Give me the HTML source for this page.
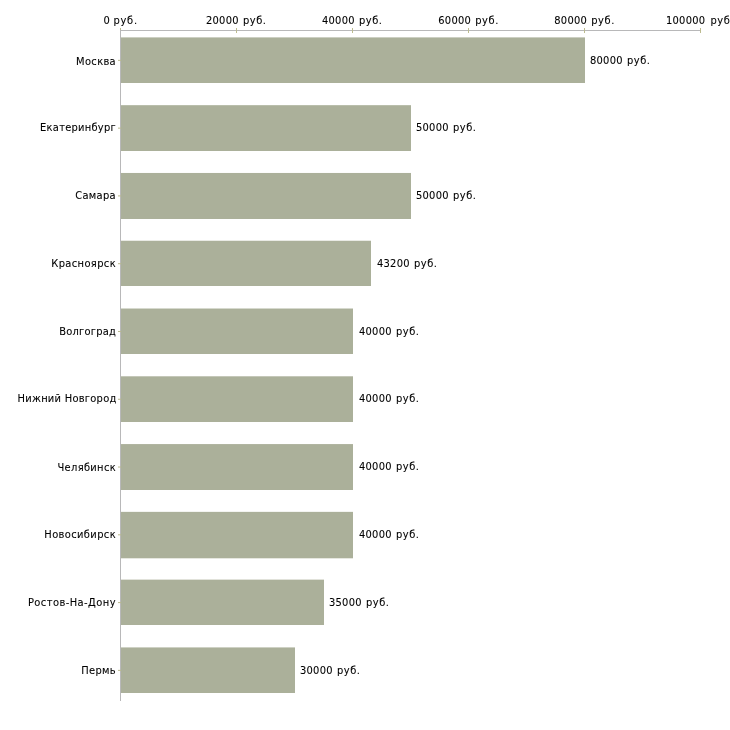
<!DOCTYPE html>
<html><head><meta charset="utf-8"><title>chart</title>
<style>
html,body{margin:0;padding:0;background:#fff;}
body{width:730px;height:730px;position:relative;overflow:hidden;font-family:"DejaVu Sans Condensed","DejaVu Sans","Liberation Sans",sans-serif;font-size:11px;font-stretch:condensed;color:#000;-webkit-text-stroke:0.08px #000;}
.c{position:absolute;white-space:nowrap;line-height:14px;height:14px;}
.v{position:absolute;white-space:nowrap;line-height:14px;height:14px;word-spacing:1.1px;}
.x{position:absolute;top:14px;white-space:nowrap;line-height:14px;word-spacing:1.1px;}
.d{letter-spacing:0.25px;}
.r{letter-spacing:0.55px;}
.t{position:absolute;background:#bcbb8f;}
.a{position:absolute;background:#b8b8b9;}
</style></head><body>

<div class="a" style="left:120px;top:30px;width:581px;height:1px"></div>
<div class="a" style="left:120px;top:30px;width:1px;height:671px"></div>
<svg width="730" height="730" viewBox="0 0 730 730" style="position:absolute;left:0;top:0"><rect x="121" y="37.40" width="464" height="45.60" fill="#abb09a"/><rect x="118" y="59.85" width="3" height="1" fill="#bcbb8f"/><rect x="121" y="105.18" width="290" height="45.82" fill="#abb09a"/><rect x="118" y="127.63" width="3" height="1" fill="#bcbb8f"/><rect x="121" y="172.96" width="290" height="46.04" fill="#abb09a"/><rect x="118" y="195.41" width="3" height="1" fill="#bcbb8f"/><rect x="121" y="240.74" width="250" height="45.26" fill="#abb09a"/><rect x="118" y="263.19" width="3" height="1" fill="#bcbb8f"/><rect x="121" y="308.52" width="232" height="45.48" fill="#abb09a"/><rect x="118" y="330.97" width="3" height="1" fill="#bcbb8f"/><rect x="121" y="376.30" width="232" height="45.70" fill="#abb09a"/><rect x="118" y="398.75" width="3" height="1" fill="#bcbb8f"/><rect x="121" y="444.08" width="232" height="45.92" fill="#abb09a"/><rect x="118" y="466.53" width="3" height="1" fill="#bcbb8f"/><rect x="121" y="511.86" width="232" height="46.44" fill="#abb09a"/><rect x="118" y="534.31" width="3" height="1" fill="#bcbb8f"/><rect x="121" y="579.64" width="203" height="45.36" fill="#abb09a"/><rect x="118" y="602.09" width="3" height="1" fill="#bcbb8f"/><rect x="121" y="647.42" width="174" height="45.58" fill="#abb09a"/><rect x="118" y="669.87" width="3" height="1" fill="#bcbb8f"/></svg>
<div class="t" style="left:120px;top:28px;width:1px;height:2px"></div>
<div class="x" style="word-spacing:0.3px;left:103.5px"><span class="d">0</span> <span class="r" style="letter-spacing:0.72px">руб.</span></div>
<div class="t" style="left:236px;top:28px;width:1px;height:5px"></div>
<div class="x" style="left:206px"><span class="d">20000</span> <span class="r">руб.</span></div>
<div class="t" style="left:352px;top:28px;width:1px;height:5px"></div>
<div class="x" style="left:322px"><span class="d">40000</span> <span class="r">руб.</span></div>
<div class="t" style="left:468px;top:28px;width:1px;height:5px"></div>
<div class="x" style="left:438.3px"><span class="d">60000</span> <span class="r">руб.</span></div>
<div class="t" style="left:584px;top:28px;width:1px;height:5px"></div>
<div class="x" style="left:554.3px"><span class="d">80000</span> <span class="r">руб.</span></div>
<div class="t" style="left:700px;top:28px;width:1px;height:5px"></div>
<div class="x" style="word-spacing:2.1px;left:666px"><span class="d">100000</span> <span class="r">руб.</span></div>
<div class="c" style="top:55px;right:614px;letter-spacing:0.33px">Москва</div>
<div class="v" style="top:54px;left:590px"><span class="d">80000</span> <span class="r">руб.</span></div>
<div class="c" style="top:121px;right:614px;letter-spacing:0.26px">Екатеринбург</div>
<div class="v" style="top:121px;left:416px"><span class="d">50000</span> <span class="r">руб.</span></div>
<div class="c" style="top:189px;right:614px;letter-spacing:0.33px">Самара</div>
<div class="v" style="top:189px;left:416px"><span class="d">50000</span> <span class="r">руб.</span></div>
<div class="c" style="top:257px;right:614px;letter-spacing:0.375px">Красноярск</div>
<div class="v" style="top:257px;left:377px"><span class="d">43200</span> <span class="r">руб.</span></div>
<div class="c" style="top:325px;right:614px;letter-spacing:0.22px">Волгоград</div>
<div class="v" style="top:325px;left:359px"><span class="d">40000</span> <span class="r">руб.</span></div>
<div class="c" style="top:392px;right:613.4px;letter-spacing:0.27px">Нижний Новгород</div>
<div class="v" style="top:392px;left:359px"><span class="d">40000</span> <span class="r">руб.</span></div>
<div class="c" style="top:461px;right:614px;letter-spacing:0.33px">Челябинск</div>
<div class="v" style="top:460px;left:359px"><span class="d">40000</span> <span class="r">руб.</span></div>
<div class="c" style="top:528px;right:614px;letter-spacing:0.38px">Новосибирск</div>
<div class="v" style="top:528px;left:359px"><span class="d">40000</span> <span class="r">руб.</span></div>
<div class="c" style="top:596px;right:614px;letter-spacing:0.44px">Ростов-На-Дону</div>
<div class="v" style="top:596px;left:329px"><span class="d">35000</span> <span class="r">руб.</span></div>
<div class="c" style="top:664px;right:614px;letter-spacing:0.33px">Пермь</div>
<div class="v" style="top:664px;left:300px"><span class="d">30000</span> <span class="r">руб.</span></div>
</body></html>
